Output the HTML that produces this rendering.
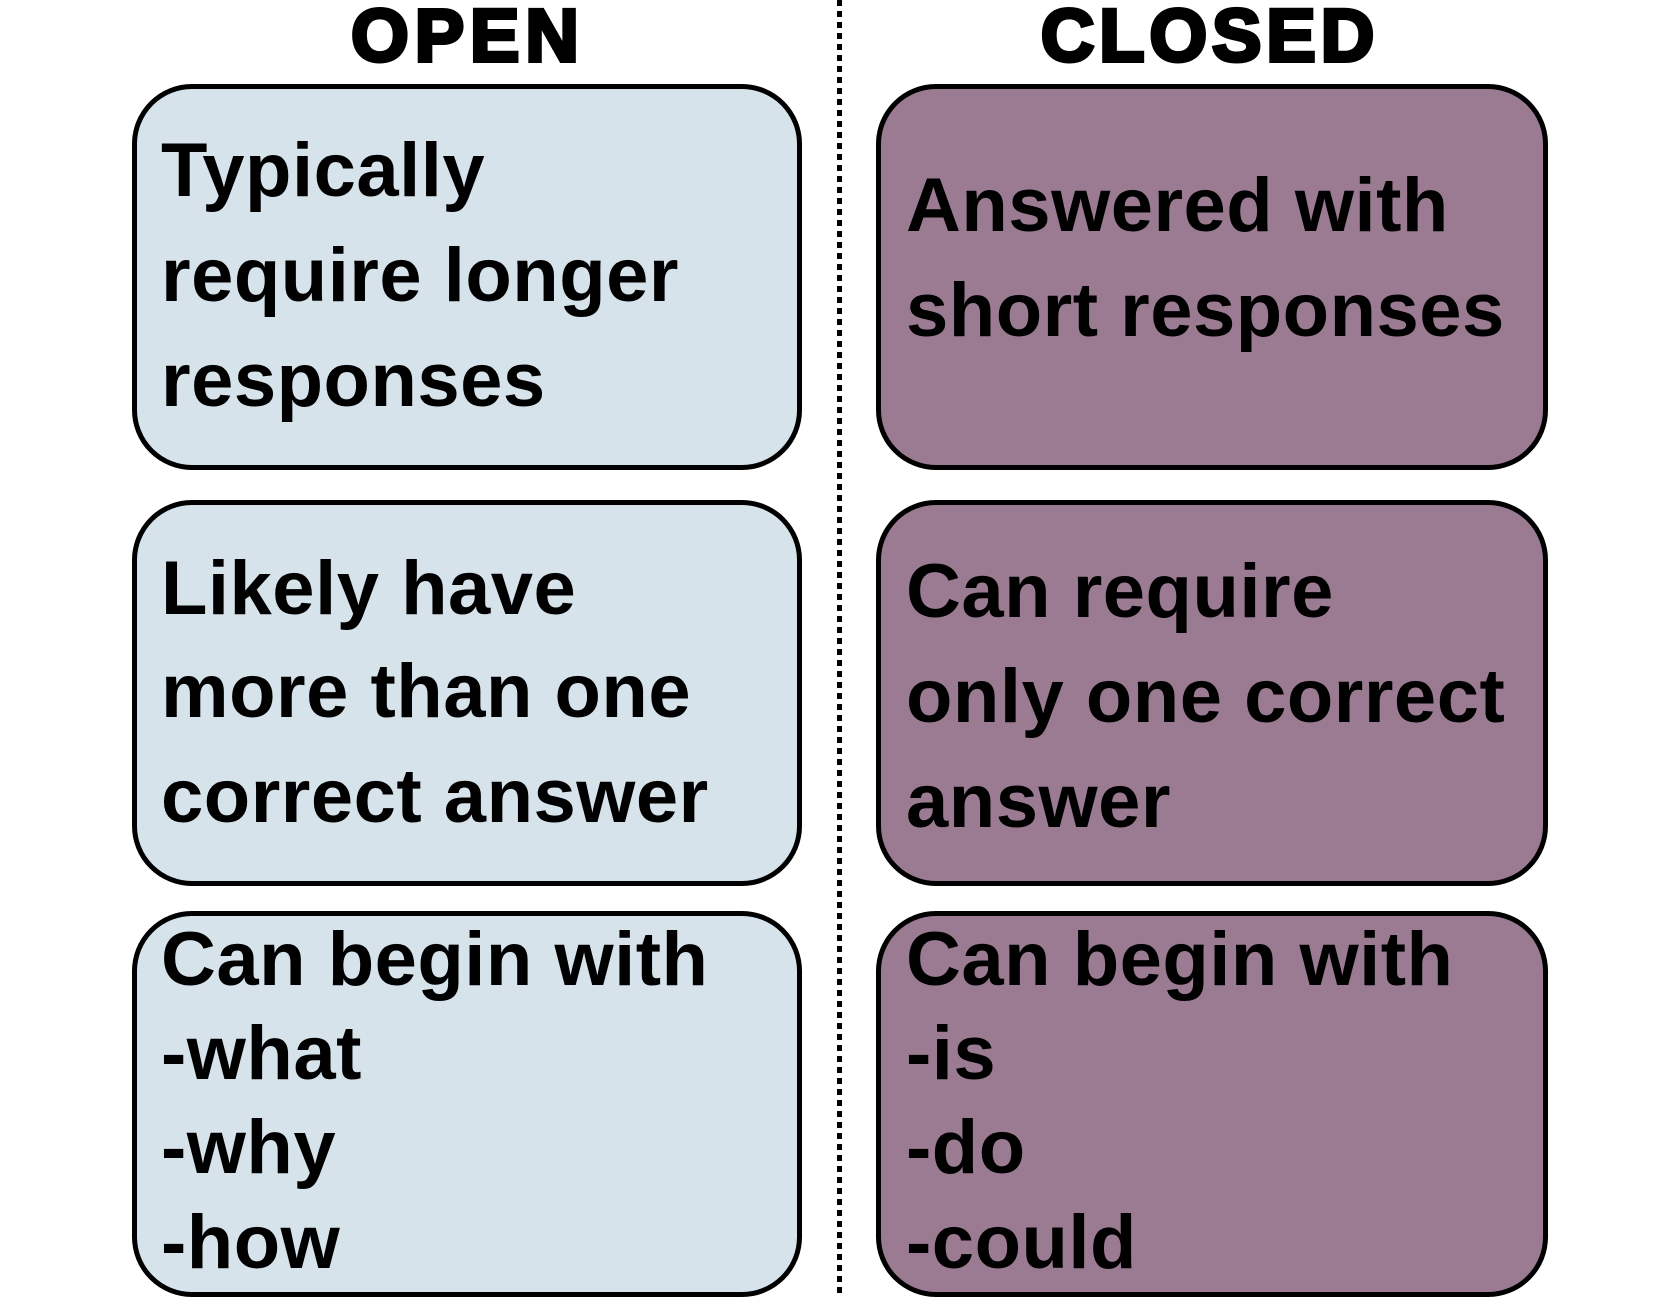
<!DOCTYPE html>
<html><head><meta charset="utf-8"><style>
body{margin:0;width:1680px;height:1298px;background:#fff;position:relative;overflow:hidden;font-family:"Liberation Sans",sans-serif;}
.box{position:absolute;border:5px solid #000;border-radius:60px;box-sizing:border-box;}
.b{background:#d6e3eb;}
.p{background:#9b7b92;}
.t{position:absolute;font-weight:bold;font-size:76px;line-height:1;color:#000;white-space:nowrap;letter-spacing:0.5px;}
.h{position:absolute;font-weight:bold;font-size:74px;line-height:1;color:#000;white-space:nowrap;-webkit-text-stroke:4px #000;text-align:center;width:500px;}
.dl{position:absolute;left:837px;top:0;width:5px;height:1298px;background:repeating-linear-gradient(#000 0 6px,transparent 6px 11px);}
</style></head><body>
<div class="h" style="left:218px;top:-1px;letter-spacing:6px">OPEN</div>
<div class="h" style="left:960px;top:-1px;letter-spacing:5px">CLOSED</div>
<div class="dl"></div>

<div class="box b" style="left:132px;top:84px;width:670px;height:386px"></div>
<div class="box p" style="left:876px;top:84px;width:672px;height:386px"></div>
<div class="box b" style="left:132px;top:500px;width:670px;height:386px"></div>
<div class="box p" style="left:876px;top:500px;width:672px;height:386px"></div>
<div class="box b" style="left:132px;top:911px;width:670px;height:386px"></div>
<div class="box p" style="left:876px;top:911px;width:672px;height:386px"></div>

<div class="t" style="left:161px;top:133px">Typically</div>
<div class="t" style="left:161px;top:238px">require longer</div>
<div class="t" style="left:161px;top:343px">responses</div>

<div class="t" style="left:906px;top:168px">Answered with</div>
<div class="t" style="left:906px;top:273px">short responses</div>

<div class="t" style="left:161px;top:551px">Likely have</div>
<div class="t" style="left:161px;top:654px">more than one</div>
<div class="t" style="left:161px;top:759px">correct answer</div>

<div class="t" style="left:906px;top:554px">Can require</div>
<div class="t" style="left:906px;top:659px">only one correct</div>
<div class="t" style="left:906px;top:764px">answer</div>

<div class="t" style="left:161px;top:922px">Can begin with</div>
<div class="t" style="left:161px;top:1016px">-what</div>
<div class="t" style="left:161px;top:1110px">-why</div>
<div class="t" style="left:161px;top:1205px">-how</div>

<div class="t" style="left:906px;top:922px">Can begin with</div>
<div class="t" style="left:906px;top:1016px">-is</div>
<div class="t" style="left:906px;top:1110px">-do</div>
<div class="t" style="left:906px;top:1205px">-could</div>
</body></html>
